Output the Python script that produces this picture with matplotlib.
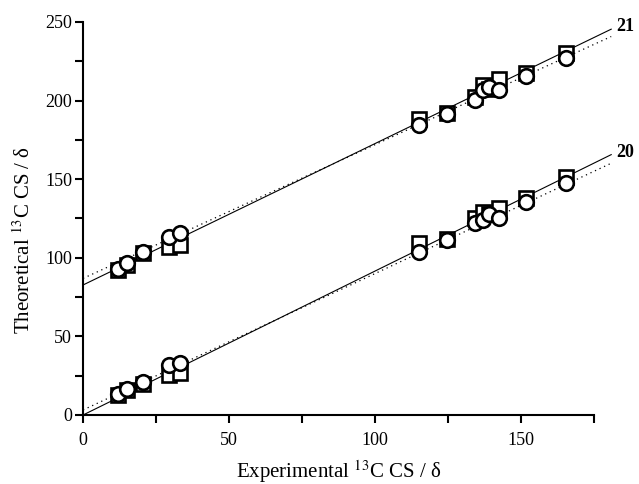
import matplotlib
matplotlib.use("Agg")
import matplotlib.pyplot as plt
import numpy as np

plt.rcParams['font.family'] = ['Liberation Serif', 'DejaVu Serif']
plt.rcParams['mathtext.fontset'] = 'stix'

# Experimental shifts (x) for compounds 20 and 21
x20 = [12.0, 15.1, 20.6, 29.5, 33.2, 115.0, 124.6, 134.0, 137.0, 138.8, 142.3, 151.5, 165.2]
x21 = [12.0, 15.1, 20.6, 29.5, 33.2, 115.0, 124.6, 134.0, 137.0, 138.8, 142.3, 151.5, 165.2]

# Theoretical shifts (squares = method A, circles = method B)
y20_sq = [12.8, 15.9, 19.7, 25.5, 26.9, 109.2, 111.7, 125.1, 129.3, 128.1, 131.5, 137.8, 151.6]
y20_ci = [13.5, 16.3, 21.0, 31.5, 33.0, 103.9, 111.3, 121.9, 124.0, 127.9, 125.1, 135.7, 147.8]
y21_sq = [92.2, 95.4, 102.8, 107.1, 108.1, 188.3, 191.9, 202.5, 209.9, 207.5, 213.7, 217.8, 230.5]
y21_ci = [93.1, 96.9, 103.9, 113.4, 115.6, 184.5, 191.5, 200.4, 206.7, 208.4, 206.7, 215.6, 226.9]

# Regression lines (intercept, slope)
fit20_solid = (0.0, 0.916)
fit20_dot = (3.2, 0.868)
fit21_solid = (82.7, 0.900)
fit21_dot = (86.9, 0.851)
fit_xrange = [0.0, 180.8]

labels = ['20', '21']
label_xy = [(182.5, 167.0), (182.5, 247.0)]

fig = plt.figure(figsize=(6.39, 4.84), dpi=100)
ax = fig.add_axes([0.130, 0.1426, 0.800, 0.812])

xr = np.array(fit_xrange)
for b, m in (fit20_solid, fit21_solid):
    ax.plot(xr, b + m * xr, color='black', lw=0.8, zorder=1, clip_on=False)
for b, m in (fit20_dot, fit21_dot):
    ax.plot(xr, b + m * xr, color='black', lw=0.9, ls=(0, (1, 3)), zorder=1, clip_on=False)

sq_kw = dict(marker='s', ms=9.5, mfc='white', mec='black', mew=1.9, ls='none', zorder=3)
ci_kw = dict(marker='o', ms=10.5, mfc='white', mec='black', mew=1.9, ls='none', zorder=4)
ax.plot(x20, y20_sq, **sq_kw)
ax.plot(x21, y21_sq, **sq_kw)
ax.plot(x20, y20_ci, **ci_kw)
ax.plot(x21, y21_ci, **ci_kw)

for lab, (lx, ly) in zip(labels, label_xy):
    ax.text(lx, ly, lab, fontsize=13, fontweight='bold', ha='left', va='center', clip_on=False)

ax.set_xlim(0, 175)
ax.set_ylim(0, 250)
ax.set_xticks(np.arange(0, 176, 25))
ax.set_xticklabels(['0', '', '50', '', '100', '', '150', ''])
ax.set_yticks(np.arange(0, 251, 25))
ax.set_yticklabels(['0', '', '50', '', '100', '', '150', '', '200', '', '250'])
for s in ('top', 'right'):
    ax.spines[s].set_visible(False)
for s in ('left', 'bottom'):
    ax.spines[s].set_linewidth(1.5)
ax.tick_params(direction='out', length=6, width=1.5, labelsize=13)
ax.tick_params(axis='x', pad=6)
ax.tick_params(axis='y', pad=2)
ax.set_xlabel('Experimental $^{13}$C CS / δ', fontsize=15)
ax.set_ylabel('Theoretical $^{13}$C CS / δ', fontsize=15)
ax.xaxis.set_label_coords(0.5, -0.11)
ax.yaxis.set_label_coords(-0.095, 0.445)

fig.savefig('out.png', dpi=100)
